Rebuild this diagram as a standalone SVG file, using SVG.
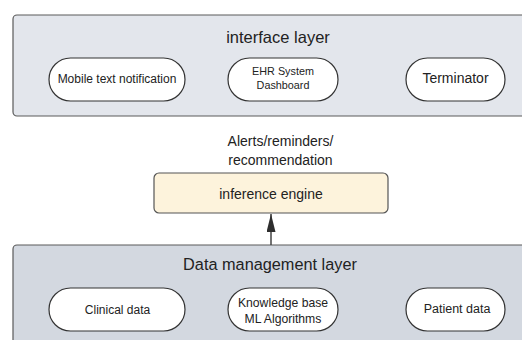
<svg xmlns="http://www.w3.org/2000/svg" width="522" height="340" viewBox="0 0 522 340">
<style>
.layer{stroke:#5a5a5a;stroke-width:1.2}
.pill{fill:#ffffff;stroke:#333333;stroke-width:1.2}
text{font-family:"Liberation Sans",Arial,sans-serif;fill:#222222;text-anchor:middle}
</style>
<defs>
<marker id="arr" viewBox="0 0 18 9" refX="18" refY="4.5" markerWidth="18" markerHeight="9" markerUnits="userSpaceOnUse" orient="auto">
<path d="M0,0 L18,4.5 L0,9 Z" fill="#2e2e2e"/>
</marker>
</defs>
<rect width="522" height="340" fill="#ffffff"/>
<g id="interface-layer">
<rect class="layer" x="13" y="15" width="530" height="101" rx="4" fill="#e3e6ec"/>
<text x="278" y="43" font-size="16.5">interface layer</text>
</g>
<g id="mobile-text">
<rect class="pill" x="49" y="58" width="136" height="43" rx="21.5"/>
<text x="117" y="83" font-size="12">Mobile text notification</text>
</g>
<g id="ehr">
<rect class="pill" x="228" y="58" width="110" height="43" rx="21.5"/>
<text x="283" y="75" font-size="10.8">EHR System</text>
<text x="283" y="89" font-size="10.8">Dashboard</text>
</g>
<g id="terminator">
<rect class="pill" x="406" y="58" width="99" height="43" rx="21.5"/>
<text x="455.5" y="83" font-size="14">Terminator</text>
</g>
<g id="alerts-label">
<text x="280.5" y="146" font-size="14">Alerts/reminders/</text>
<text x="280.5" y="165" font-size="14">recommendation</text>
</g>
<g id="inference-engine">
<rect x="154" y="173" width="234" height="40" rx="5" fill="#fdf3dc" stroke="#555555" stroke-width="1.2"/>
<text x="271" y="199" font-size="14">inference engine</text>
</g>
<g id="data-layer">
<rect class="layer" x="13" y="245" width="530" height="110" rx="4" fill="#d3d8e0"/>
<text x="270" y="270" font-size="16.3">Data management layer</text>
</g>
<g id="clinical">
<rect class="pill" x="49" y="288" width="136" height="43" rx="21.5"/>
<text x="117.5" y="314" font-size="12">Clinical data</text>
</g>
<g id="knowledge">
<rect class="pill" x="228" y="288" width="110" height="43" rx="21.5"/>
<text x="283" y="307" font-size="12.2">Knowledge base</text>
<text x="283" y="323" font-size="12.2">ML Algorithms</text>
</g>
<g id="patient">
<rect class="pill" x="406" y="288" width="99" height="43" rx="21.5"/>
<text x="457" y="313" font-size="12.5">Patient data</text>
</g>
<g id="connectors">
<line x1="271" y1="245" x2="271" y2="214" stroke="#444444" stroke-width="1.5" marker-end="url(#arr)"/>
</g>
</svg>
